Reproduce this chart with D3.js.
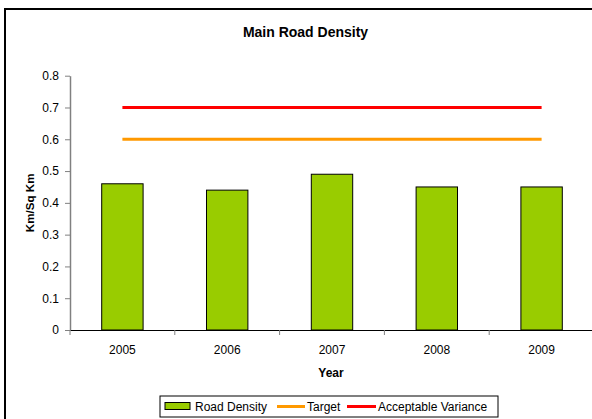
<!DOCTYPE html>
<html>
<head>
<meta charset="utf-8">
<script src="https://cdn.jsdelivr.net/npm/d3@7"></script>
<style>
  body { margin: 0; background: #fff; }
  svg { display: block; font-family: "Liberation Sans", Arial, sans-serif; }
</style>
</head>
<body>
<svg id="chart" width="592" height="419"></svg>
<script>
const years = ["2005", "2006", "2007", "2008", "2009"];
const roadDensity = [0.46, 0.44, 0.49, 0.45, 0.45];
const target = [0.6, 0.6, 0.6, 0.6, 0.6];
const acceptableVariance = [0.7, 0.7, 0.7, 0.7, 0.7];
const yTicks = [0, 0.1, 0.2, 0.3, 0.4, 0.5, 0.6, 0.7, 0.8];

const svg = d3.select("#chart");

// outer chart frame (right/bottom edges fall outside the window)
svg.append("rect")
  .attr("x", 5).attr("y", 9)
  .attr("width", 600).attr("height", 420)
  .attr("fill", "#fff")
  .attr("stroke", "#000")
  .attr("stroke-width", 2);

const plotLeft = 70, plotRight = 594, plotTop = 75.7, plotBottom = 330;

const x = d3.scaleBand().domain(years).range([plotLeft, plotRight]).padding(0);
const y = d3.scaleLinear().domain([0, 0.8]).range([plotBottom, plotTop]);

// title
svg.append("text")
  .attr("x", 305.5).attr("y", 37)
  .attr("text-anchor", "middle")
  .style("font-size", "14px")
  .style("font-weight", "bold")
  .text("Main Road Density");

// y axis
const yAxis = svg.append("g")
  .attr("transform", `translate(${plotLeft},0)`)
  .call(d3.axisLeft(y).tickValues(yTicks).tickFormat(d3.format("")).tickSize(5).tickSizeOuter(0).tickPadding(6));
yAxis.select(".domain").attr("stroke", "#808080").attr("stroke-width", 1.5);
yAxis.selectAll(".tick line").attr("stroke", "#808080");
yAxis.selectAll("text").style("font-size", "12px").attr("fill", "#000");

svg.append("text")
  .attr("transform", `translate(33.5,${(plotTop + plotBottom) / 2}) rotate(-90)`)
  .attr("text-anchor", "middle")
  .style("font-size", "11.6px")
  .style("font-weight", "bold")
  .text("Km/Sq Km");

// bars
const barW = x.bandwidth() * 0.395;
svg.selectAll("rect.bar")
  .data(years)
  .enter()
  .append("rect")
  .attr("class", "bar")
  .attr("x", (d) => x(d) + x.bandwidth() / 2 - barW / 2)
  .attr("y", (d, i) => y(roadDensity[i]))
  .attr("width", barW)
  .attr("height", (d, i) => plotBottom - y(roadDensity[i]))
  .attr("fill", "#99cc00")
  .attr("stroke", "#000")
  .attr("stroke-width", 1);

// x axis
const xAxis = svg.append("g")
  .attr("transform", `translate(0,${plotBottom})`)
  .call(d3.axisBottom(x).tickSize(0).tickSizeOuter(0).tickPadding(15.5));
xAxis.select(".domain").attr("stroke", "#000");
xAxis.selectAll("text").style("font-size", "12px").attr("fill", "#000");

// boundary ticks between categories
svg.selectAll("line.xtick")
  .data(years)
  .enter()
  .append("line")
  .attr("class", "xtick")
  .attr("x1", (d) => x(d)).attr("x2", (d) => x(d))
  .attr("y1", plotBottom).attr("y2", plotBottom + 5)
  .attr("stroke", "#808080");

svg.append("text")
  .attr("x", 331).attr("y", 376.5)
  .attr("text-anchor", "middle")
  .style("font-size", "12px")
  .style("font-weight", "bold")
  .text("Year");

// line series
const line = d3.line()
  .x((d, i) => x(years[i]) + x.bandwidth() / 2)
  .y((d) => y(d));

svg.append("path")
  .datum(target)
  .attr("fill", "none")
  .attr("stroke", "#ff9900")
  .attr("stroke-width", 3)
  .attr("d", line);

svg.append("path")
  .datum(acceptableVariance)
  .attr("fill", "none")
  .attr("stroke", "#ff0000")
  .attr("stroke-width", 3)
  .attr("d", line);

// legend
const legend = svg.append("g");
legend.append("rect")
  .attr("x", 160).attr("y", 396)
  .attr("width", 338).attr("height", 21)
  .attr("fill", "#fff")
  .attr("stroke", "#000")
  .attr("stroke-width", 1);

legend.append("rect")
  .attr("x", 165).attr("y", 402.5)
  .attr("width", 25).attr("height", 7)
  .attr("fill", "#99cc00")
  .attr("stroke", "#000");
legend.append("text")
  .attr("x", 195).attr("y", 410.5)
  .style("font-size", "12px")
  .text("Road Density");

legend.append("line")
  .attr("x1", 277).attr("x2", 305)
  .attr("y1", 406.5).attr("y2", 406.5)
  .attr("stroke", "#ff9900").attr("stroke-width", 3);
legend.append("text")
  .attr("x", 307).attr("y", 410.5)
  .style("font-size", "12px")
  .text("Target");

legend.append("line")
  .attr("x1", 347).attr("x2", 376)
  .attr("y1", 406.5).attr("y2", 406.5)
  .attr("stroke", "#ff0000").attr("stroke-width", 3);
legend.append("text")
  .attr("x", 378).attr("y", 410.5)
  .style("font-size", "12px")
  .text("Acceptable Variance");
</script>
</body>
</html>
